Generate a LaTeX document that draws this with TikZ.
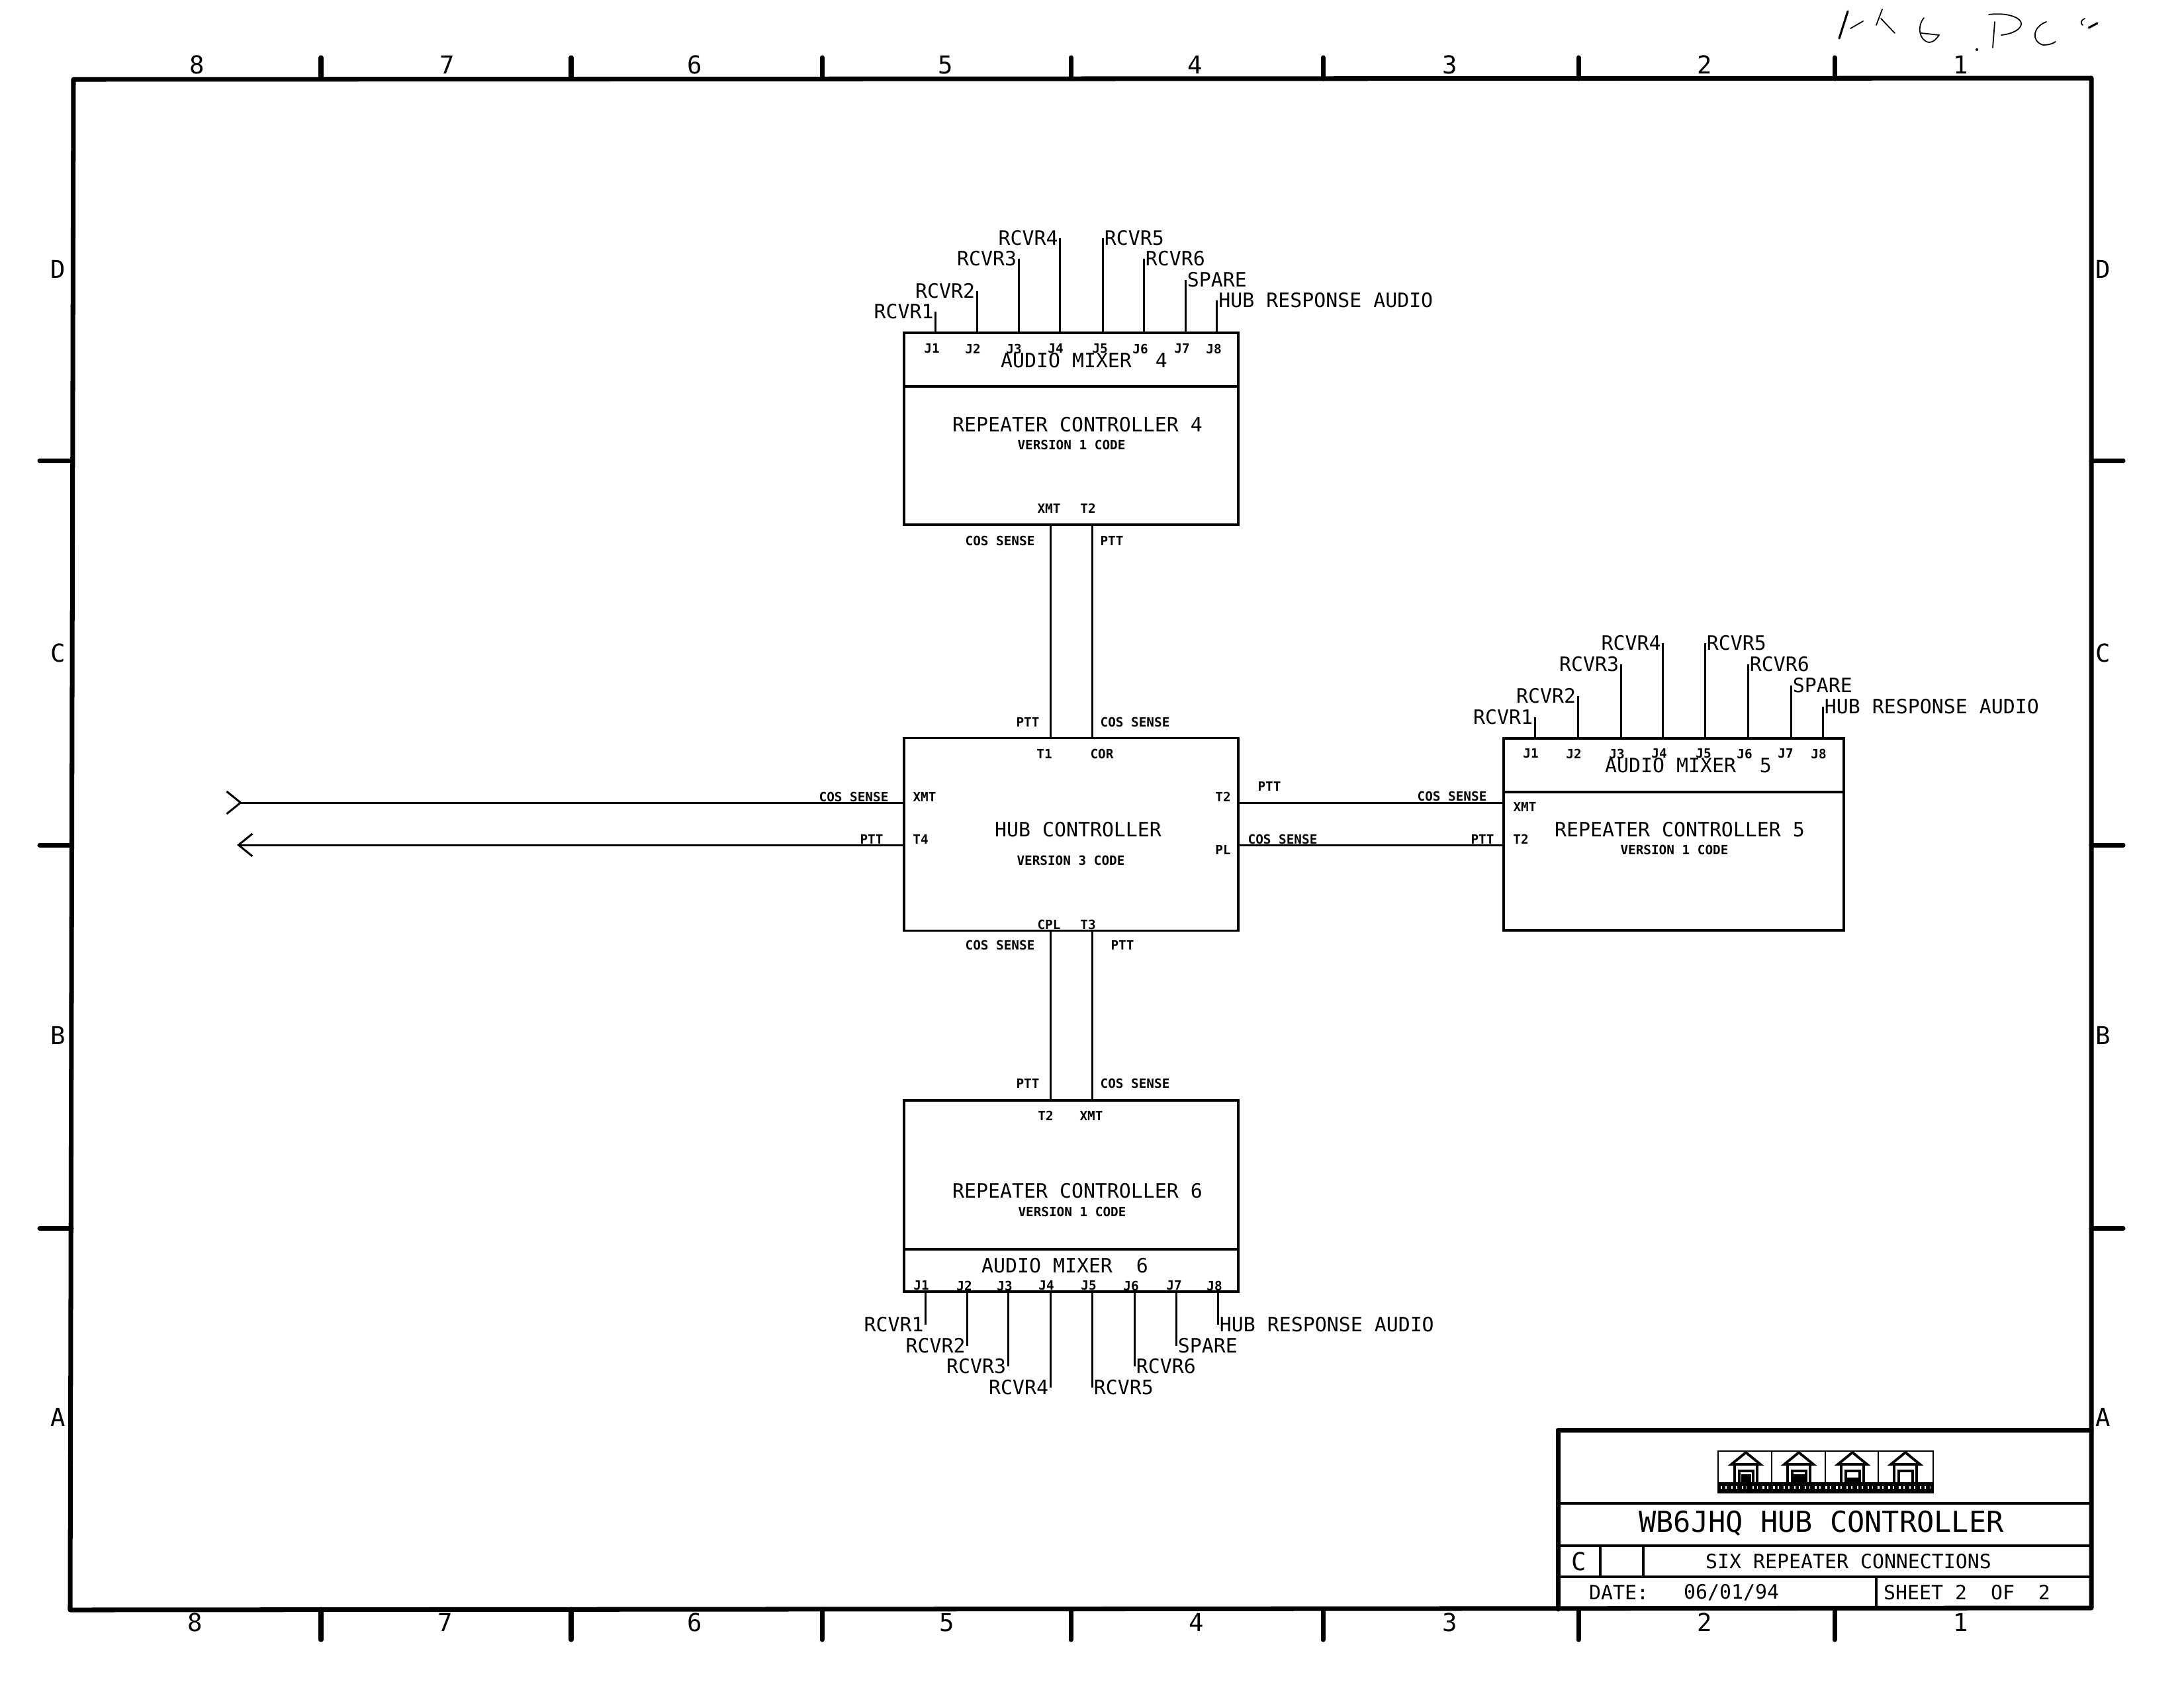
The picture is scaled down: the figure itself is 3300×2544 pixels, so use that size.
\documentclass[tikz,border=0pt]{standalone}
\usepackage{fontspec}
\setmainfont{DejaVu Sans Mono}
\usetikzlibrary{arrows.meta}
\tikzstyle{block} = [rectangle, draw=black, line width=1pt, inner sep=0pt]
\tikzstyle{wire} = [line width=0.85pt]
\tikzstyle{frame} = [line width=2pt, line cap=round, line join=round]
\tikzstyle{rule} = [line width=1.1pt]
\tikzstyle{biglabel} = [font=\fontsize{8.5}{10}\selectfont, inner xsep=0.6pt, inner ysep=0pt]
\tikzstyle{tiny} = [font=\fontsize{5.5}{7}\selectfont\bfseries, inner sep=0pt]
\tikzstyle{zone} = [font=\fontsize{10.6}{12}\selectfont, inner sep=0pt]
\tikzstyle{titletext} = [font=\fontsize{12.4}{14}\selectfont, inner sep=0pt]
\tikzstyle{pencil} = [line width=0.5pt, line cap=round]

\begin{document}
\begin{tikzpicture}[x=0.01cm, y=-0.01cm]
			\useasboundingbox (0,0) rectangle (3300,2544);

			%sheet frame
			\draw [frame] (111,120) -- (3160,118) -- (3160,2430) -- (106,2433) -- cycle;
			\foreach \tx in {485,863,1242,1618,1999,2385,2772} {
				\draw [frame] (\tx,87) -- (\tx,119);
				\draw [frame] (\tx,2432) -- (\tx,2478);
			}
			\foreach \ty in {696,1277,1856} {
				\draw [frame] (60,\ty) -- (108,\ty);
				\draw [frame] (3160,\ty) -- (3208,\ty);
			}
			\foreach \zx/\zn in {298/8,676/7,1050/6,1429/5,1806/4,2191/3,2576/2,2963/1} \node (top\zn) [zone] at (\zx,98) {\zn};
			\foreach \zx/\zn in {295/8,673/7,1050/6,1431/5,1808/4,2191/3,2576/2,2963/1} \node (bot\zn) [zone] at (\zx,2452) {\zn};
			\foreach \zy/\zn in {407/D,987/C,1565/B,2142/A} {
				\node (left\zn) [zone] at (88,\zy) {\zn};
				\node (right\zn) [zone] at (3178,\zy) {\zn};
			}

			%controller 4
			\node (mix4) [block, minimum width=5.05cm, minimum height=0.81cm] at (1618.5,543.5) {};
			\node (rpt4) [block, minimum width=5.05cm, minimum height=2.09cm] at (1618.5,688.5) {};
			\node (mix4name) [biglabel] at (1638,545) {AUDIO MIXER\ \ 4};
			\node (rpt4name) [biglabel] at (1628,642) {REPEATER CONTROLLER 4};
			\node (rpt4code) [tiny] at (1619,672) {VERSION 1 CODE};
			\node (rpt4xmt) [tiny] at (1585,768) {XMT};
			\node (rpt4t2) [tiny] at (1644,768) {T2};
			\node (rpt4cos) [tiny] at (1511,817) {COS SENSE};
			\node (rpt4ptt) [tiny] at (1680,817) {PTT};
			\node (m4j1) [tiny] at (1408,527) {J1};
			\node (m4j2) [tiny] at (1470,527) {J2};
			\node (m4j3) [tiny] at (1532,527) {J3};
			\node (m4j4) [tiny] at (1595,527) {J4};
			\node (m4j5) [tiny] at (1662,527) {J5};
			\node (m4j6) [tiny] at (1723,527) {J6};
			\node (m4j7) [tiny] at (1786,527) {J7};
			\node (m4j8) [tiny] at (1834,527) {J8};
			\node (m4a) [biglabel, anchor=east] at (1413.5,471) {RCVR1};
			\node (m4b) [biglabel, anchor=east] at (1476,440) {RCVR2};
			\node (m4c) [biglabel, anchor=east] at (1539,391) {RCVR3};
			\node (m4d) [biglabel, anchor=east] at (1601.5,360) {RCVR4};
			\node (m4e) [biglabel, anchor=west] at (1666,360) {RCVR5};
			\node (m4f) [biglabel, anchor=west] at (1728,391) {RCVR6};
			\node (m4g) [biglabel, anchor=west] at (1791,423) {SPARE};
			\node (m4h) [biglabel, anchor=west] at (1838.5,454) {HUB RESPONSE AUDIO};

			%hub
			\node (hub) [block, minimum width=5.05cm, minimum height=2.91cm] at (1618.5,1261) {};
			\node (hubname) [biglabel] at (1629,1254) {HUB CONTROLLER};
			\node (hubcode) [tiny] at (1618,1300) {VERSION 3 CODE};
			\node (hubt1) [tiny] at (1578,1139) {T1};
			\node (hubcor) [tiny] at (1665,1139) {COR};
			\node (hubxmt) [tiny] at (1397,1204) {XMT};
			\node (hubt4) [tiny] at (1391,1268) {T4};
			\node (hubt2) [tiny] at (1848,1204) {T2};
			\node (hubpl) [tiny] at (1848,1284) {PL};
			\node (hubcpl) [tiny] at (1585,1397) {CPL};
			\node (hubt3) [tiny] at (1644,1397) {T3};
			\node (hubptta) [tiny] at (1553,1091) {PTT};
			\node (hubcosa) [tiny] at (1715,1091) {COS SENSE};
			\node (hubcosb) [tiny] at (1290,1204) {COS SENSE};
			\node (hubpttb) [tiny] at (1317,1268) {PTT};
			\node (hubpttc) [tiny] at (1918,1188) {PTT};
			\node (hubcosc) [tiny] at (1938,1268) {COS SENSE};
			\node (hubcosd) [tiny] at (1511,1428) {COS SENSE};
			\node (hubpttd) [tiny] at (1696,1428) {PTT};
			\coordinate (cosin) at (341,1213);
			\coordinate (pttout) at (358,1277);
			\coordinate (busa) at (1587,1000);
			\coordinate (busb) at (1650,1000);

			%controller 5
			\node (mix5) [block, minimum width=5.14cm, minimum height=0.81cm] at (2529,1156.5) {};
			\node (rpt5) [block, minimum width=5.14cm, minimum height=2.09cm] at (2529,1301.5) {};
			\node (mix5name) [biglabel] at (2551,1157) {AUDIO MIXER\ \ 5};
			\node (rpt5name) [biglabel] at (2538,1254) {REPEATER CONTROLLER 5};
			\node (rpt5code) [tiny] at (2530,1284) {VERSION 1 CODE};
			\node (rpt5xmt) [tiny] at (2304,1219) {XMT};
			\node (rpt5t2) [tiny] at (2298,1268) {T2};
			\node (rpt5cos) [tiny] at (2194,1203) {COS SENSE};
			\node (rpt5ptt) [tiny] at (2240,1268) {PTT};
			\node (m5j1) [tiny] at (2313,1139) {J1};
			\node (m5j2) [tiny] at (2378,1139) {J2};
			\node (m5j3) [tiny] at (2443,1139) {J3};
			\node (m5j4) [tiny] at (2507,1139) {J4};
			\node (m5j5) [tiny] at (2574,1139) {J5};
			\node (m5j6) [tiny] at (2636,1139) {J6};
			\node (m5j7) [tiny] at (2698,1139) {J7};
			\node (m5j8) [tiny] at (2748,1139) {J8};
			\node (m5a) [biglabel, anchor=east] at (2319,1084) {RCVR1};
			\node (m5b) [biglabel, anchor=east] at (2384,1052) {RCVR2};
			\node (m5c) [biglabel, anchor=east] at (2449,1004) {RCVR3};
			\node (m5d) [biglabel, anchor=east] at (2512.5,972) {RCVR4};
			\node (m5e) [biglabel, anchor=west] at (2576,972) {RCVR5};
			\node (m5f) [biglabel, anchor=west] at (2641,1004) {RCVR6};
			\node (m5g) [biglabel, anchor=west] at (2706,1036) {SPARE};
			\node (m5h) [biglabel, anchor=west] at (2754,1068) {HUB RESPONSE AUDIO};

			%controller 6
			\node (rpt6) [block, minimum width=5.05cm, minimum height=2.25cm] at (1618.5,1775.5) {};
			\node (mix6) [block, minimum width=5.05cm, minimum height=0.64cm] at (1618.5,1920) {};
			\node (rpt6name) [biglabel] at (1628,1800) {REPEATER CONTROLLER 6};
			\node (rpt6code) [tiny] at (1620,1831) {VERSION 1 CODE};
			\node (mix6name) [biglabel] at (1609,1913) {AUDIO MIXER\ \ 6};
			\node (rpt6t2) [tiny] at (1580,1686) {T2};
			\node (rpt6xmt) [tiny] at (1649,1686) {XMT};
			\node (rpt6ptt) [tiny] at (1553,1637) {PTT};
			\node (rpt6cos) [tiny] at (1715,1637) {COS SENSE};
			\node (m6j1) [tiny] at (1392,1943) {J1};
			\node (m6j2) [tiny] at (1457,1943) {J2};
			\node (m6j3) [tiny] at (1518,1943) {J3};
			\node (m6j4) [tiny] at (1581,1943) {J4};
			\node (m6j5) [tiny] at (1645,1943) {J5};
			\node (m6j6) [tiny] at (1709,1943) {J6};
			\node (m6j7) [tiny] at (1774,1943) {J7};
			\node (m6j8) [tiny] at (1835,1943) {J8};
			\node (m6a) [biglabel, anchor=east] at (1398.5,2002) {RCVR1};
			\node (m6b) [biglabel, anchor=east] at (1461.5,2034) {RCVR2};
			\node (m6c) [biglabel, anchor=east] at (1523,2065) {RCVR3};
			\node (m6d) [biglabel, anchor=east] at (1587,2097) {RCVR4};
			\node (m6e) [biglabel, anchor=west] at (1650,2097) {RCVR5};
			\node (m6f) [biglabel, anchor=west] at (1714,2065) {RCVR6};
			\node (m6g) [biglabel, anchor=west] at (1777,2034) {SPARE};
			\node (m6h) [biglabel, anchor=west] at (1840,2002) {HUB RESPONSE AUDIO};

			%wires
			\foreach \pin in {a,b,c,d} {
				\draw [wire] (m4\pin.east) -- (m4\pin.east |- mix4.north);
				\draw [wire] (m5\pin.east) -- (m5\pin.east |- mix5.north);
				\draw [wire] (m6\pin.east) -- (m6\pin.east |- mix6.south);
			}
			\foreach \pin in {e,f,g,h} {
				\draw [wire] (m4\pin.west) -- (m4\pin.west |- mix4.north);
				\draw [wire] (m5\pin.west) -- (m5\pin.west |- mix5.north);
				\draw [wire] (m6\pin.west) -- (m6\pin.west |- mix6.south);
			}
			\draw [wire] (busa |- rpt4.south) -- (busa |- hub.north);
			\draw [wire] (busb |- rpt4.south) -- (busb |- hub.north);
			\draw [wire] (busa |- hub.south) -- (busa |- rpt6.north);
			\draw [wire] (busb |- hub.south) -- (busb |- rpt6.north);
			\draw [wire] (hub.east |- cosin) -- (rpt5.west |- cosin);
			\draw [wire] (hub.east |- pttout) -- (rpt5.west |- pttout);
			\draw [wire, {Straight Barb[length=0.21cm, width=0.34cm, reversed]}-] (cosin) -- (hub.west |- cosin);
			\draw [wire, -{Straight Barb[length=0.21cm, width=0.34cm]}] (hub.west |- pttout) -- (pttout);

			%title block
			\draw [frame] (2354,2432) -- (2354,2161) -- (3160,2161);
			\draw [rule] (2354,2272) -- (3160,2272);
			\draw [rule] (2354,2336) -- (3160,2336);
			\draw [rule] (2354,2383) -- (3160,2383);
			\draw [rule] (2418,2336) -- (2418,2383);
			\draw [rule] (2483,2336) -- (2483,2383);
			\draw [rule] (2835,2383) -- (2835,2430);
			\node (title) [titletext] at (2752,2302) {WB6JHQ HUB CONTROLLER};
			\node (size) [zone] at (2386,2360) {C};
			\node (subtitle) [biglabel] at (2793,2360) {SIX REPEATER CONNECTIONS};
			\node (datetag) [biglabel] at (2446,2407) {DATE:};
			\node (date) [biglabel] at (2616,2407) {06/01/94};
			\node (sheet) [biglabel] at (2972,2407) {SHEET 2\ \ OF\ \ 2};

			%logo
			\draw [line width=0.8pt] (2596,2193) rectangle (2921,2256);
			\fill (2596,2240) rectangle (2921,2256);
			\draw [white, line width=1.1pt, dash pattern=on 0.7pt off 1.3pt on 0.5pt off 2pt] (2600,2248) -- (2918,2248);
			\foreach \dx in {2677,2758,2838} \draw [line width=0.8pt] (\dx,2193) -- (\dx,2240);
			\foreach \hx in {2638,2718,2799,2879} {
				\draw [line width=1.1pt] (\hx-22,2213) -- (\hx,2195) -- (\hx+22,2213) -- cycle;
				\draw [line width=0.9pt] (\hx-17,2240) -- (\hx-17,2213) (\hx+17,2213) -- (\hx+17,2240);
				\draw [line width=0.9pt] (\hx-10,2240) -- (\hx-10,2223) -- (\hx+11,2223) -- (\hx+11,2240);
			}
			\fill (2631,2228) rectangle (2646,2240);
			\fill (2707,2228) rectangle (2727,2240);
			\fill (2790,2233) rectangle (2810,2240);

			%handwriting
			\draw [pencil, line width=0.9pt] (2792,17) -- (2779,58);
			\draw [pencil] (2815,32) -- (2796,43);
			\draw [pencil] (2844,14) -- (2835,38);
			\draw [pencil] (2842,28) -- (2863,50);
			\draw [pencil] (2907,27) .. controls (2896,40) and (2900,62) .. (2915,64) .. controls (2922,64) and (2926,58) .. (2930,53);
			\draw [pencil] (2903,50) -- (2930,53);
			\fill (2987,75) circle (2);
			\draw [pencil] (3014,33) -- (3011,72);
			\draw [pencil] (3005,22) .. controls (3035,18) and (3056,28) .. (3054,37) .. controls (3052,47) and (3035,52) .. (3024,53);
			\draw [pencil] (3092,33) .. controls (3072,40) and (3068,62) .. (3087,68) .. controls (3094,68) and (3100,67) .. (3106,63);
			\draw [pencil, line width=0.9pt] (3169,35) -- (3156,42);
			\draw [pencil] (3150,28) .. controls (3144,30) and (3143,36) .. (3147,38);

		\end{tikzpicture}
\end{document}
